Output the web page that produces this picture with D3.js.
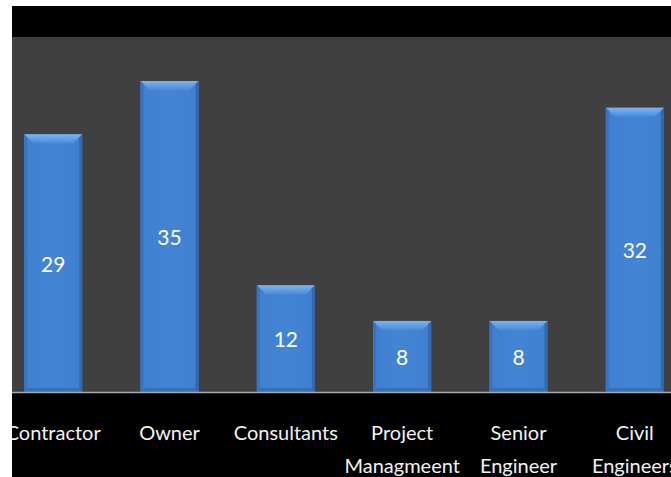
<!DOCTYPE html>
<html>
<head>
<meta charset="utf-8">
<script src="https://cdn.jsdelivr.net/npm/d3@7"></script>
<style>
  html, body { margin: 0; padding: 0; background: #ffffff; }
  svg { display: block; }
</style>
</head>
<body>
<svg id="chart" width="671" height="477"></svg>
<script>
// Respondent groups and their counts
const categories = ["Contractor", "Owner", "Consultants", "Project\nManagmeent", "Senior\nEngineer", "Civil\nEngineers"];
const counts = [29, 35, 12, 8, 8, 32];

const W = 671, H = 477;
const frame = { left: 12, top: 6 };
const plot = { top: 37, bottom: 392 };

const svg = d3.select("#chart");

const defs = svg.append("defs");
defs.append("clipPath").attr("id", "frameClip")
  .append("rect").attr("x", frame.left).attr("y", frame.top)
  .attr("width", W - frame.left).attr("height", H - frame.top);

// Bar body: slightly darker at the side edges
const body = defs.append("linearGradient").attr("id", "barBody")
  .attr("x1", 0).attr("x2", 1).attr("y1", 0).attr("y2", 0);
[[0, "#3a70b6"], [0.06, "#4080d0"], [0.5, "#4484d4"], [0.94, "#4080d0"], [1, "#3a70b6"]]
  .forEach(([o, c]) => body.append("stop").attr("offset", o).attr("stop-color", c));

const topBevel = defs.append("linearGradient").attr("id", "bevelTop")
  .attr("x1", 0).attr("x2", 0).attr("y1", 0).attr("y2", 1);
[[0, "#7fb3ee"], [0.5, "#62a0e6"], [1, "#4a8ad8"]]
  .forEach(([o, c]) => topBevel.append("stop").attr("offset", o).attr("stop-color", c));

const root = svg.append("g").attr("clip-path", "url(#frameClip)");

// Backgrounds: black frame, dark grey plot band
root.append("rect").attr("x", frame.left).attr("y", frame.top)
  .attr("width", W - frame.left).attr("height", H - frame.top).attr("fill", "#000000");
root.append("rect").attr("x", frame.left).attr("y", plot.top)
  .attr("width", W - frame.left).attr("height", plot.bottom - plot.top).attr("fill", "#404040");

const x = d3.scaleBand().domain(categories).range([-5, 693]).paddingInner(0.5).paddingOuter(0.25);
const y = d3.scaleLinear().domain([0, 35]).range([plot.bottom, 81]);

const data = categories.map((c, i) => ({ cat: c, v: counts[i] }));

const bars = root.append("g").selectAll("g.bar").data(data).join("g").attr("class", "bar");

bars.append("rect")
  .attr("x", d => x(d.cat)).attr("y", d => y(d.v))
  .attr("width", x.bandwidth()).attr("height", d => y(0) - y(d.v))
  .attr("fill", "url(#barBody)");

// Bevelled top edge
const bev = 9;
bars.append("path")
  .attr("d", d => {
    const x0 = x(d.cat), x1 = x0 + x.bandwidth(), t = y(d.v);
    return `M${x0},${t}L${x1},${t}L${x1 - bev},${t + bev}L${x0 + bev},${t + bev}Z`;
  })
  .attr("fill", "url(#bevelTop)");

// Side bevels
bars.append("path")
  .attr("d", d => {
    const x0 = x(d.cat), t = y(d.v), b = y(0);
    return `M${x0},${t}L${x0 + 3},${t + 3}L${x0 + 3},${b - 3}L${x0},${b}Z`;
  })
  .attr("fill", "#3a74c0");
bars.append("path")
  .attr("d", d => {
    const x1 = x(d.cat) + x.bandwidth(), t = y(d.v), b = y(0);
    return `M${x1},${t}L${x1 - 3},${t + 3}L${x1 - 3},${b - 3}L${x1},${b}Z`;
  })
  .attr("fill", "#3468ae");
// Bottom bevel
bars.append("path")
  .attr("d", d => {
    const x0 = x(d.cat), x1 = x0 + x.bandwidth(), b = y(0);
    return `M${x0},${b}L${x0 + 4},${b - 4}L${x1 - 4},${b - 4}L${x1},${b}Z`;
  })
  .attr("fill", "#3870b8");

// Value labels centred in each bar
bars.append("text")
  .attr("x", d => x(d.cat) + x.bandwidth() / 2)
  .attr("y", d => (y(d.v) + y(0)) / 2)
  .attr("text-anchor", "middle").attr("dominant-baseline", "central")
  .attr("fill", "#ffffff").attr("font-family", "Lato, 'Open Sans', sans-serif")
  .attr("font-size", 21)
  .text(d => d.v);

// Baseline
root.append("line").attr("x1", frame.left).attr("x2", W)
  .attr("y1", plot.bottom + 0.5).attr("y2", plot.bottom + 0.5)
  .attr("stroke", "#a8a8a8").attr("stroke-width", 1.5);

// Category axis
const axis = d3.axisBottom(x).tickSize(0).tickFormat("");
const gAxis = root.append("g").attr("transform", `translate(0,${plot.bottom})`).call(axis);
gAxis.select(".domain").remove();

gAxis.selectAll(".tick").each(function (d) {
  const t = d3.select(this).append("text")
    .attr("fill", "#f2f2f2").attr("text-anchor", "middle")
    .attr("font-family", "Lato, 'Open Sans', sans-serif").attr("font-size", 20);
  d.split("\n").forEach((line, i) => {
    t.append("tspan").attr("x", 0).attr("y", 48 + i * 33).text(line);
  });
});
</script>
</body>
</html>
